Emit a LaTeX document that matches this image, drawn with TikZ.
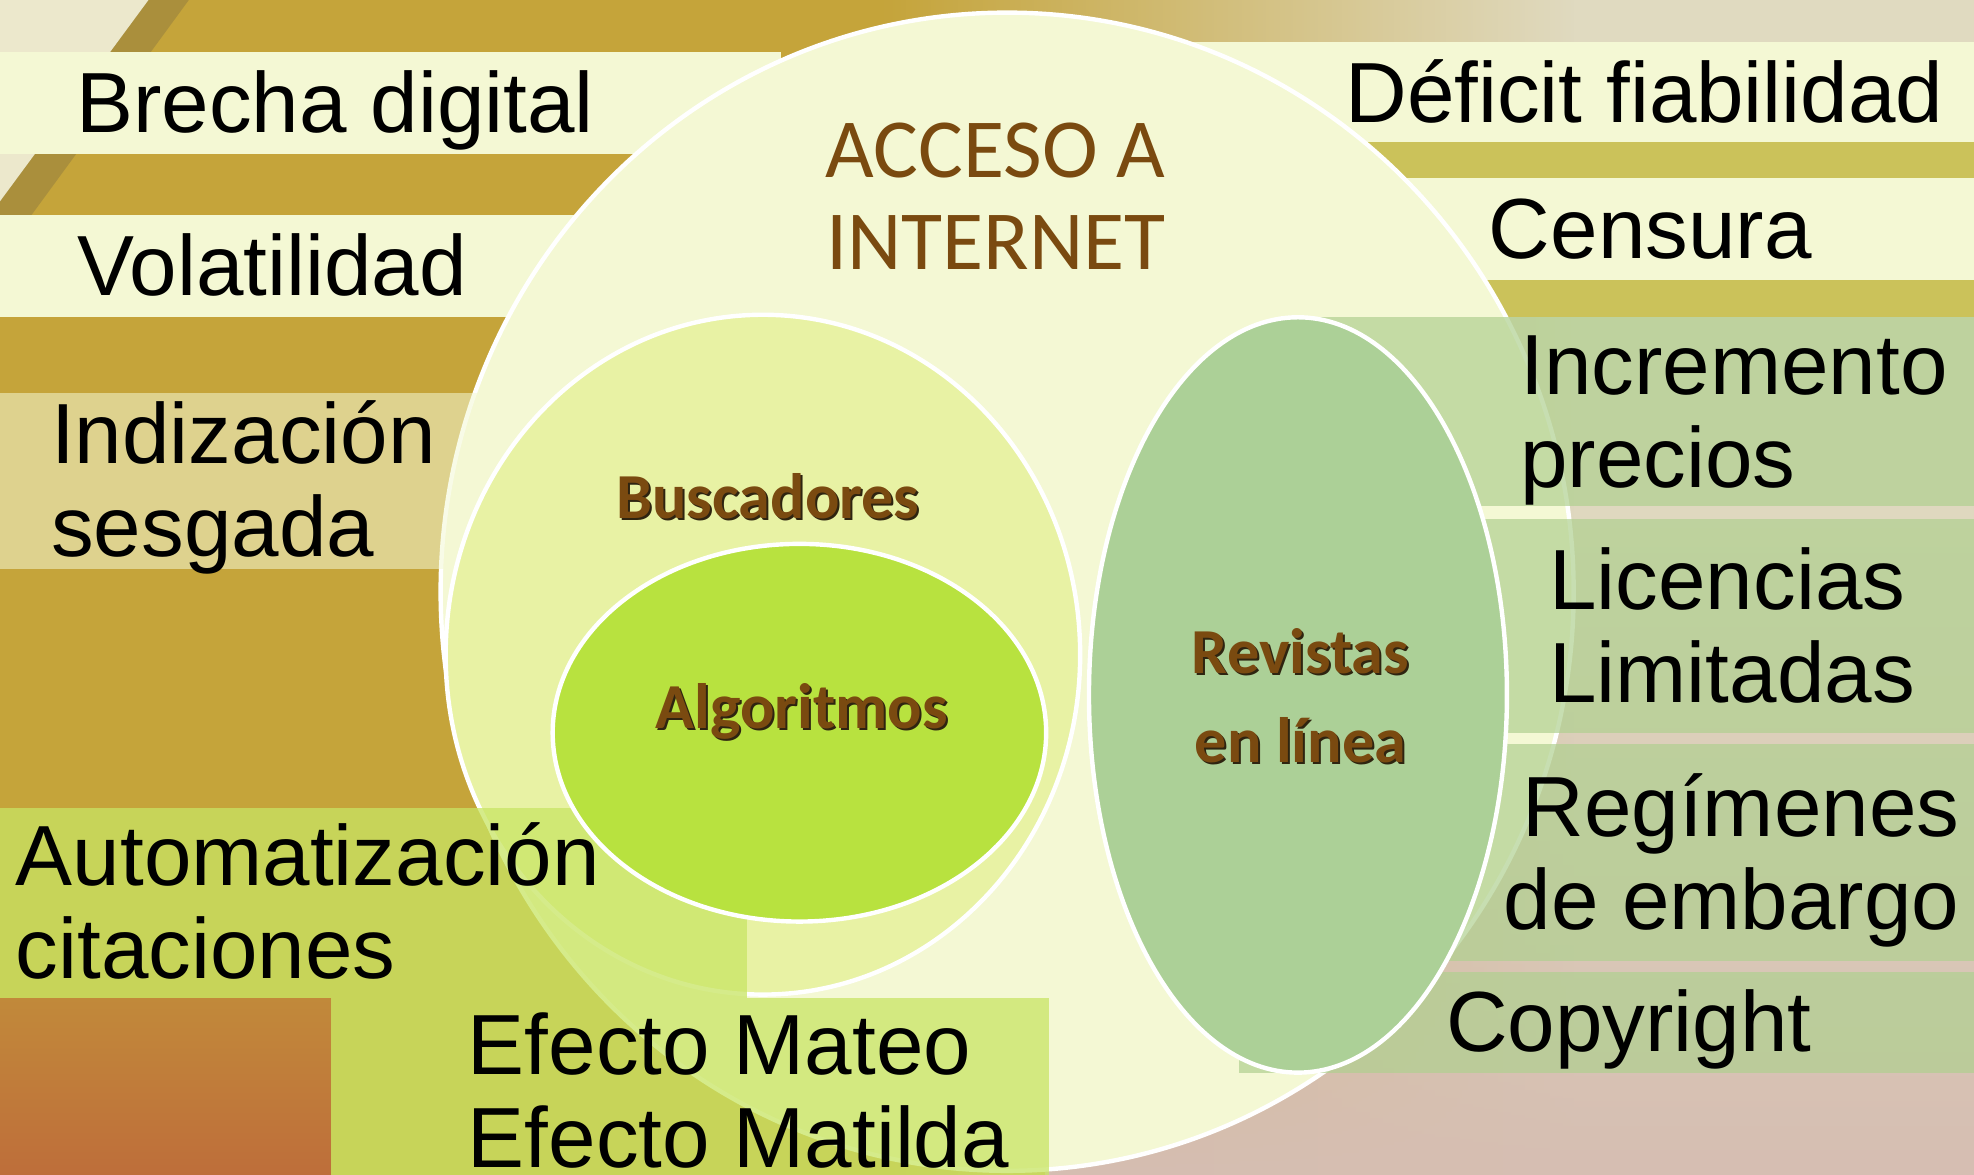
\documentclass[tikz,border=0pt]{standalone}
\usepackage{fontspec}
\setmainfont{Liberation Sans}
\newfontfamily\innerfont{Carlito}
\usetikzlibrary{fadings}

\definecolor{bgGold}{HTML}{C5A43A}
\definecolor{bgLight}{HTML}{ECE8CC}
\definecolor{bgDark}{HTML}{7A6A40}
\definecolor{bgPale}{HTML}{E0DAC0}
\definecolor{bgOlive}{HTML}{CBC25A}
\definecolor{bgRose}{HTML}{D6BEB2}
\definecolor{bgOrange}{HTML}{BE6E3A}
\definecolor{bandCream}{HTML}{F4F8D4}
\definecolor{bandLime}{HTML}{C8E564}
\definecolor{bandMoss}{HTML}{B0D090}
\definecolor{circInternet}{HTML}{F4F8D4}
\definecolor{circBusc}{HTML}{E8F2A4}
\definecolor{circAlgo}{HTML}{B8E23F}
\definecolor{circRev}{HTML}{ACD097}
\definecolor{txtBrown}{HTML}{7A4A10}
\definecolor{shadowBrown}{HTML}{2E2410}

\tikzfading[name=fadeinright, left color=transparent!100, right color=transparent!0]
\tikzfading[name=fadeindown, top color=transparent!100, bottom color=transparent!0]

\tikzset{
  issue/.style={font=\fontsize{19.3}{21}\selectfont, inner sep=0pt, align=left, anchor=base west},
  zone/.style={draw=white, line width=0.35mm},
  creamband/.style={fill=bandCream},
  greenband/.style={fill=bandLime, fill opacity=0.75},
  mossband/.style={fill=bandMoss, fill opacity=0.7},
  headline/.style={font=\innerfont\fontsize{19}{20.7}\selectfont, text=txtBrown, inner sep=0pt, align=center, anchor=base},
  topic/.style={font=\innerfont\bfseries\fontsize{14.5}{20.2}\selectfont, text=txtBrown, inner sep=0pt, align=center, anchor=base}
}

% brown text with a dark shadow
\newcommand{\shadowtopic}[4]{%
  \node[topic, text=shadowBrown] (#1-shadow) at (#2+1.6,#3+1.6) {#4};
  \node[topic] (#1) at (#2,#3) {#4};}

\begin{document}
\begin{tikzpicture}[x=0.1mm, y=-0.1mm]
\useasboundingbox (0,0) rectangle (1568,933);
\clip (0,0) rectangle (1568,933);

% background
\fill[bgGold] (0,0) rectangle (1568,933);
\fill[bgLight] (0,0) -- (118,0) -- (0,160) -- cycle;
\fill[bgDark, opacity=0.35] (118,0) -- (150,0) -- (0,205) -- (0,160) -- cycle;
\fill[bgPale, path fading=fadeinright] (700,0) rectangle (1250,933);
\fill[bgPale] (1250,0) rectangle (1568,933);
\fill[bgOlive] (900,112) rectangle (1568,141);
\fill[bgOlive] (900,222) rectangle (1568,252);
\fill[bgRose, path fading=fadeindown] (830,380) rectangle (1568,933);
\shade[top color=bgGold!50!bgOrange, bottom color=bgOrange] (0,793) rectangle (263,933);

% bands behind the big circle
\fill[creamband] (0,41) rectangle (620,122);
\fill[creamband] (0,171) rectangle (600,252);
\fill[creamband] (900,33) rectangle (1568,113);
\fill[creamband] (900,141) rectangle (1568,222);

% circles
\filldraw[zone, fill=circInternet] (800,470) ellipse [x radius=450, y radius=460];
\fill[creamband, fill opacity=0.55] (0,312) rectangle (441,452);
\filldraw[zone, fill=circBusc] (606,520) ellipse [x radius=252, y radius=270];

\fill[greenband] (0,642) rectangle (593,793);
\fill[greenband] (263,793) rectangle (833,940);

\filldraw[zone, fill=circAlgo] (635,582) ellipse [x radius=196, y radius=150];

\fill[mossband] (1044,252) rectangle (1568,402);
\fill[mossband] (1044,412) rectangle (1568,582);
\fill[mossband] (1044,591) rectangle (1568,763);
\fill[mossband] (984,772) rectangle (1568,852);

\filldraw[zone, fill=circRev] (1031,552) ellipse [x radius=166, y radius=300];

% inner labels (base = last line)
\node[headline] (acceso) at (791,214) {ACCESO A\\INTERNET};
\shadowtopic{buscadores}{610}{412}{Buscadores}
\shadowtopic{algoritmos}{637}{579}{Algoritmos}
\shadowtopic{revistas}{1033}{606}{Revistas\\en línea}

% left labels
\node[issue] (brecha) at (60,105) {Brecha digital};
\node[issue] (volatilidad) at (61,235) {Volatilidad};
\node[issue] (indizacion) at (40,442) {Indización\\sesgada};
\node[issue] (automatizacion) at (12,777) {Automatización\\citaciones};
\node[issue] (efecto) at (371,927) {Efecto Mateo\\Efecto Matilda};

% right labels
\node[issue] (deficit) at (1068,97) {Déficit fiabilidad};
\node[issue] (censura) at (1182,205) {Censura};
\node[issue] (incremento) at (1207,387) {Incremento\\precios};
\node[issue] (licencias) at (1230,558) {Licencias\\Limitadas};
\node[issue, align=right, anchor=base east] (regimenes) at (1557,738) {Regímenes\\de embargo};
\node[issue] (copyright) at (1148,835) {Copyright};

\end{tikzpicture}
\end{document}
